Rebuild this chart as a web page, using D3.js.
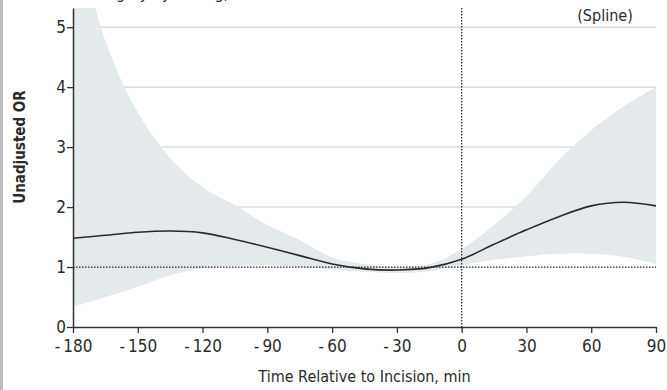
<!DOCTYPE html>
<html>
<head>
<meta charset="utf-8">
<script src="https://cdn.jsdelivr.net/npm/d3@7"></script>
<style>
body { margin: 0; background: #fff; }
text { font-family: "DejaVu Sans Condensed", "Liberation Sans Narrow", sans-serif; font-stretch: condensed; fill: #2b2b2b; }
</style>
</head>
<body>
<script>
var width = 667;
var height = 390;

//Data, one point every 15 min
var minutes = [-180, -165, -150, -135, -120, -105, -90, -75, -60, -45, -30, -15, 0, 15, 30, 45, 60, 75, 90];
var oddsRatio = [1.48, 1.53, 1.58, 1.60, 1.57, 1.46, 1.33, 1.19, 1.05, 0.97, 0.95, 0.99, 1.13, 1.38, 1.62, 1.84, 2.02, 2.08, 2.02];
var lowerCI = [0.34, 0.50, 0.67, 0.86, 0.98, 1.02, 1.03, 1.00, 0.96, 0.92, 0.90, 0.93, 1.03, 1.12, 1.18, 1.22, 1.22, 1.17, 1.05];
var upperCI = [6.8, 4.77, 3.58, 2.82, 2.33, 2.03, 1.70, 1.45, 1.16, 1.05, 1.00, 1.05, 1.30, 1.70, 2.18, 2.78, 3.28, 3.68, 4.00];

var xTicks = [-180, -150, -120, -90, -60, -30, 0, 30, 60, 90];
var yTicks = [0, 1, 2, 3, 4, 5];

var margin = {left: 74, right: 11, top: 8, bottom: 63};

var frame = d3.select("body").append("svg")
            .attr("width", width)
            .attr("height", height);

//grey strip at the very left
frame.append("rect")
     .attr("x", 0).attr("y", 0)
     .attr("width", 3).attr("height", height)
     .attr("fill", "#bdbdbd");

//cut off title line above the panel (only its descenders show)
frame.append("text")
     .attr("x", 92).attr("y", -1)
     .style("font-size", "16px")
     .text("Surgery by Timing, min");

var x = d3.scaleLinear()
          .domain([-180, 90])
          .range([margin.left - 1, width - margin.right]);

var y = d3.scaleLinear()
          .domain([0, 5.32])
          .range([height - margin.bottom, margin.top]);

frame.append("clipPath").attr("id", "plotclip")
     .append("rect")
     .attr("x", x(-180)).attr("y", y(5.32))
     .attr("width", x(90) - x(-180)).attr("height", y(0) - y(5.32));

//light gridlines for 2..5
frame.selectAll(".grid")
     .data(yTicks.filter(function(d){ return d >= 2; }))
     .enter().append("line")
     .attr("class", "grid")
     .attr("x1", x(-180)).attr("x2", x(90))
     .attr("y1", function(d){ return y(d); })
     .attr("y2", function(d){ return y(d); })
     .attr("stroke", "#dcdcdc")
     .attr("stroke-width", 1.5);

var rows = minutes.map(function(m, i){
    return {t: m, or: oddsRatio[i], lo: lowerCI[i], hi: upperCI[i]};
});

//confidence band
var band = d3.area()
             .x(function(d){ return x(d.t); })
             .y0(function(d){ return y(d.lo); })
             .y1(function(d){ return y(d.hi); })
             .curve(d3.curveCatmullRom.alpha(0.5));

frame.append("path")
     .datum(rows)
     .attr("clip-path", "url(#plotclip)")
     .attr("d", band)
     .attr("fill", "#e4e9ec");

//reference lines, OR = 1 and time 0
frame.append("line")
     .attr("x1", x(-180)).attr("x2", x(90))
     .attr("y1", y(1)).attr("y2", y(1))
     .attr("stroke", "#222")
     .attr("stroke-width", 1.2)
     .attr("stroke-dasharray", "1.5,1.5");

frame.append("line")
     .attr("x1", x(0)).attr("x2", x(0))
     .attr("y1", y(5.32)).attr("y2", y(0))
     .attr("stroke", "#222")
     .attr("stroke-width", 1.2)
     .attr("stroke-dasharray", "1.5,1.5");

//spline
var line = d3.line()
             .x(function(d){ return x(d.t); })
             .y(function(d){ return y(d.or); })
             .curve(d3.curveCatmullRom.alpha(0.5));

frame.append("path")
     .datum(rows)
     .attr("d", line)
     .attr("fill", "none")
     .attr("stroke", "#2a2a2a")
     .attr("stroke-width", 1.6);

//axes
var xAxis = frame.append("g")
     .attr("transform", "translate(0," + y(0) + ")")
     .call(d3.axisBottom(x).tickValues(xTicks).tickSize(6).tickSizeOuter(0)
           .tickFormat(function(d){ return d < 0 ? "-\u2009" + Math.abs(d) : d; }));

var yAxis = frame.append("g")
     .attr("transform", "translate(" + x(-180) + ",0)")
     .call(d3.axisLeft(y).tickValues(yTicks).tickSize(6).tickSizeOuter(0)
           .tickFormat(d3.format("d")));

frame.selectAll(".domain").attr("stroke", "#333").attr("stroke-width", 1.5);
frame.selectAll(".tick line").attr("stroke", "#333").attr("stroke-width", 1.3);
frame.selectAll(".tick text").style("font-size", "17px").attr("fill", "#2b2b2b");
xAxis.selectAll(".tick text").attr("y", 12).attr("dy", "0.75em");
yAxis.selectAll(".tick text").attr("x", -7).attr("dy", "0.3em");

//axis titles
frame.append("text")
     .attr("x", (x(-180) + x(90)) / 2)
     .attr("y", 382)
     .attr("text-anchor", "middle")
     .style("font-size", "16px")
     .text("Time Relative to Incision, min");

frame.append("text")
     .attr("transform", "translate(25,147) rotate(-90)")
     .attr("text-anchor", "middle")
     .style("font-size", "15px")
     .style("font-weight", "bold")
     .text("Unadjusted OR");

frame.append("text")
     .attr("x", 605).attr("y", 21)
     .attr("text-anchor", "middle")
     .style("font-size", "16px")
     .text("(Spline)");
</script>
</body>
</html>
